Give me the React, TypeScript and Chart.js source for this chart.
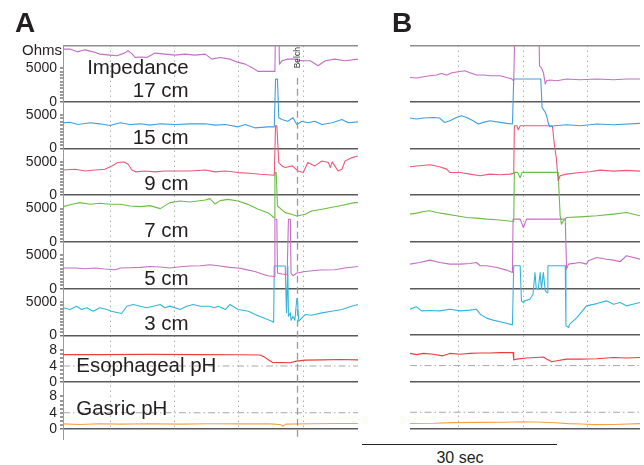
import React, { useEffect, useRef } from 'react';
import { Chart, registerables } from 'chart.js';

Chart.register(...registerables);

const FONT = "'Liberation Sans', Arial, Helvetica, sans-serif";
const INK = '#231f20';
Chart.defaults.font.family = FONT;

type Pt = [number, number];

// ---------- Panel A: time (s), impedance (Ohm) / pH ----------
const a17: Pt[] = [[-7.3,7890],[-6.2,7890],[-5.1,7480],[-3.9,7780],[-2.6,7480],[-1.6,7140],[0,6990],[1.1,6900],[2.2,7290],[2.8,7640],[3.3,7290],[3.9,6650],[4.7,6700],[5.7,6650],[7.0,7290],[8.5,7140],[10.1,6990],[11.6,7140],[13.2,6990],[14.8,7140],[15.8,6390],[17.1,6640],[18.6,6390],[19.9,5900],[21.0,5640],[22.0,5150],[23.0,4550],[25.6,4550],[25.7,12000],[26.2,12000],[26.3,5640],[26.7,6140],[27.6,6390],[28.7,6390],[29.8,6140],[31.1,6140],[32.3,5390],[33.4,6140],[34.9,6390],[36.5,6140],[38.5,6390]];
const a15: Pt[] = [[-7.3,3850],[-6.2,3940],[-5.0,3600],[-3.1,3850],[-1.6,3700],[0,3450],[1.6,3850],[3.1,3600],[4.7,3700],[6.2,3500],[7.8,3700],[10.1,3600],[12.4,3700],[14.8,3700],[16.3,3500],[17.9,3600],[19.9,3250],[21.0,3600],[22.5,3100],[24.5,3250],[25.5,3250],[25.7,10400],[26.0,10400],[26.2,4600],[26.7,4340],[27.6,4090],[28.4,4600],[29.0,3600],[29.8,4090],[30.7,3850],[31.8,4090],[32.9,3600],[34.5,3850],[36.0,4340],[37.0,3850],[38.5,4000]];
const a9: Pt[] = [[-7.3,3790],[-5.4,3890],[-3.9,3640],[-2.3,3790],[-0.8,3890],[0.3,4400],[1.2,4900],[2.2,4990],[2.8,4640],[3.4,3790],[4.0,3500],[5.4,3640],[7.0,3500],[8.5,3640],[10.1,3640],[12.4,3640],[14.8,3790],[16.3,3500],[17.9,3640],[19.9,3400],[21.7,3300],[23.3,3150],[25.5,3000],[25.7,10400],[25.9,10400],[26.2,4900],[26.7,4400],[27.2,4150],[28.3,4400],[29.2,3640],[30.0,3400],[30.7,4900],[31.8,4400],[32.9,5140],[33.9,4900],[34.2,4150],[34.5,5000],[35.4,3640],[36.0,3900],[36.5,5140],[37.6,5640],[38.5,5880]];
const a7: Pt[] = [[-7.3,5300],[-5.9,5650],[-4.7,5900],[-3.1,5650],[-1.6,5800],[0,5650],[1.6,5650],[3.1,5400],[4.7,5300],[6.2,5450],[7.8,5000],[9.3,5900],[10.9,6140],[12.4,6000],[13.6,6140],[14.8,6300],[15.5,6500],[16.3,5700],[17.1,6200],[18.3,6390],[19.9,6140],[21.4,5640],[23.0,4900],[24.7,4300],[25.5,3600],[25.6,10400],[25.8,10400],[26.0,5400],[27.2,4400],[28.2,4150],[29.0,3900],[30.3,4150],[31.3,4640],[32.9,4900],[35.5,5390],[38.0,5900],[38.5,5900]];
const a5: Pt[] = [[-7.3,3100],[-5.4,3100],[-3.9,3000],[-2.3,3100],[-0.8,2950],[0.8,2850],[1.6,3100],[3.1,3150],[4.7,3200],[6.2,3340],[7.8,3250],[9.3,3100],[10.9,3300],[12.4,3400],[14.0,3450],[15.5,3590],[17.1,3400],[18.6,3200],[19.9,3100],[21.0,2900],[22.5,2590],[23.6,2200],[24.5,1950],[25.5,1840],[25.6,10400],[25.9,10400],[26.0,2350],[26.7,2200],[27.5,2100],[27.7,10400],[28.0,10400],[28.1,2350],[28.4,1950],[29.0,2350],[30.3,2590],[32.6,2800],[34.9,2850],[36.5,3100],[38.5,3340]];
const a3: Pt[] = [[-7.3,4150],[-6.2,3890],[-5.2,4390],[-4.4,3890],[-3.6,4150],[-2.6,3640],[-1.6,4150],[-0.5,3890],[0.2,3640],[1.8,3290],[2.6,4390],[3.6,4640],[4.7,4390],[5.7,4150],[6.7,4390],[7.8,4640],[8.5,4150],[9.3,4400],[10.9,3890],[11.9,4390],[12.9,4640],[14.0,4390],[15.5,4390],[16.2,4150],[16.8,4390],[17.9,3890],[18.6,4640],[19.9,3890],[21.5,3640],[22.5,3140],[23.8,2650],[25.1,2140],[25.4,1990],[25.5,10400],[27.2,10400],[27.4,3400],[27.6,10400],[27.7,2900],[28.0,3400],[28.1,2300],[28.4,2900],[28.7,2300],[29.0,5540],[29.1,5300],[29.3,2140],[29.8,2650],[30.3,3140],[31.3,3040],[32.9,3390],[34.4,3640],[36.0,3890],[37.5,4390],[38.5,4640]];
const aEsophagealPh: Pt[] = [[-7.3,6.8],[-1.6,6.8],[6.2,6.85],[14.0,6.8],[20.2,6.75],[23.3,6.7],[23.9,6.3],[24.5,5.6],[25.2,4.9],[28.0,4.8],[28.9,5.2],[30.3,5.45],[33.0,5.5],[35.7,5.6],[38.5,5.5]];
const aGastricPh: Pt[] = [[-7.3,1.25],[-4.7,1.1],[-1.6,1.3],[1.6,1.2],[6.2,1.3],[10.9,1.2],[15.5,1.3],[20.2,1.25],[24.8,1.25],[26.4,1.1],[26.9,0.7],[27.3,1.2],[31.1,1.3],[35.7,1.35],[38.5,1.35]];

// ---------- Panel B ----------
const b17: Pt[] = [[-7.6,3640],[-6.6,3550],[-5.5,3750],[-4.5,3890],[-3.5,4000],[-2.7,4240],[-1.9,4000],[-1.1,4350],[0.2,4540],[0.9,4640],[1.7,4350],[2.7,4000],[3.8,4000],[4.8,3900],[6.4,3900],[7.4,3640],[8.2,3400],[8.5,3140],[8.7,12000],[12.4,12000],[12.5,5390],[12.8,5090],[13.1,4390],[13.4,2650],[13.6,3140],[14.1,3250],[15.2,3140],[16.7,3400],[18.8,3300],[21.4,3400],[24.0,3300],[26.0,3400],[28.1,3400]];
const b15: Pt[] = [[-7.6,4550],[-6.6,4400],[-5.5,4550],[-4.0,4640],[-3.0,4550],[-2.2,3890],[-1.4,4150],[-0.4,4640],[0.4,4900],[1.2,4640],[2.2,4150],[3.0,3650],[3.8,3900],[4.8,4150],[6.4,3900],[7.4,3750],[8.3,3650],[8.5,10400],[12.7,10400],[12.9,6140],[13.4,5400],[13.6,4900],[13.9,3650],[14.1,3250],[14.9,3400],[16.7,3550],[18.8,3400],[21.4,3650],[24.0,3550],[28.1,3750]];
const b9: Pt[] = [[-7.6,4240],[-6.1,4390],[-4.5,4540],[-3.0,4240],[-1.9,3890],[-1.4,3380],[0.2,3380],[1.7,3140],[3.3,2890],[4.8,3140],[6.4,3050],[7.9,3140],[8.5,3250],[8.6,10400],[9.0,10400],[9.2,9800],[9.5,10400],[14.5,10400],[14.8,7640],[15.1,5630],[15.4,2140],[15.7,2900],[16.7,3140],[18.8,3380],[20.3,3500],[21.9,3740],[24.0,3600],[26.0,3700],[28.1,3600]];
const b7: Pt[] = [[-7.6,4150],[-6.6,4300],[-5.5,4540],[-4.5,4640],[-3.5,4390],[-1.9,4150],[-0.4,3890],[1.2,3640],[2.7,3550],[4.3,3400],[5.9,3300],[7.4,3140],[8.5,3040],[8.6,10400],[9.1,10400],[9.5,9600],[9.8,10400],[15.4,10400],[15.7,4000],[15.9,2650],[16.2,3140],[16.7,3640],[18.8,3740],[21.4,3890],[24.0,4150],[26.0,4390],[28.1,3890]];
const b5: Pt[] = [[-7.6,3650],[-6.1,3890],[-4.5,4250],[-3.0,3890],[-1.4,3650],[0.2,3650],[1.7,3750],[2.7,3890],[3.3,3400],[4.3,3400],[5.9,3140],[7.4,2750],[8.3,2400],[8.4,10400],[9.5,10400],[10.0,9130],[10.5,10400],[16.5,10400],[16.7,2900],[17.0,3650],[18.8,3890],[19.8,3650],[20.1,4150],[21.4,4640],[22.9,4390],[24.0,4250],[25.0,4000],[26.0,4900],[28.1,4400]];
const b3: Pt[] = [[-7.6,3890],[-6.6,4240],[-5.8,3640],[-4.5,3700],[-3.0,3640],[-1.4,3890],[0.2,3640],[1.7,3750],[2.7,3890],[3.3,3140],[4.3,2550],[5.3,2250],[6.9,1890],[8.3,1540],[8.5,10400],[9.5,10400],[9.7,5140],[10.0,4880],[10.2,5140],[11.0,5390],[11.5,6140],[11.8,9370],[12.0,7000],[12.3,6900],[12.6,9370],[12.8,6890],[13.1,9370],[13.4,6630],[13.7,6380],[13.8,10400],[16.5,10400],[16.6,1390],[17.0,1140],[17.2,1650],[18.3,2640],[19.8,4390],[21.4,4730],[22.9,5140],[24.0,4640],[25.0,4900],[26.0,4390],[27.0,4640],[28.1,4900]];
const bEsophagealPh: Pt[] = [[-7.6,7.0],[-6.6,6.7],[-5.5,7.0],[-4.0,6.8],[-2.5,6.4],[-1.4,7.0],[0.2,6.8],[1.7,7.0],[3.3,7.1],[4.8,7.1],[6.4,7.2],[8.4,7.2],[8.5,5.4],[9.0,5.6],[10.5,5.85],[12.0,6.0],[13.1,6.1],[13.6,5.6],[14.4,4.95],[15.2,5.2],[16.7,5.6],[18.8,5.6],[21.4,5.7],[24.0,6.0],[26.0,5.85],[28.1,6.0]];
const bGastricPh: Pt[] = [[-7.6,1.25],[-4.0,1.3],[-1.0,1.45],[3.0,1.5],[7.0,1.55],[10.0,1.65],[13.0,1.55],[15.0,1.4],[17.0,1.2],[19.0,1.1],[21.0,0.95],[24.0,1.0],[28.1,1.2]];

// ---------- Channels, ticks, ranges ----------
const channelNames = ['17 cm', '15 cm', '9 cm', '7 cm', '5 cm', '3 cm', 'Esophageal pH', 'Gasric pH'];
const channelColors = ['#c46fc4', '#3f9fe0', '#f0577a', '#6dbd45', '#c46fc4', '#33b5dc', '#eb3d3d', '#f7a145'];
const impedanceLabels = [0, 5000];
const phLabels = [0, 4, 8];
const impedanceMax = 7000;
const topBandMax = 8400;
const phMax = 11.5;
const phReference = 4;
const gridSeconds = [0, 10, 20, 30];
const aTimeRange: Pt = [-7.3, 38.5];
const bTimeRange: Pt = [-7.6, 28.1];
const belchTime = 29.0;

const aSeries = [a17, a15, a9, a7, a5, a3, aEsophagealPh, aGastricPh];
const bSeries = [b17, b15, b9, b7, b5, b3, bEsophagealPh, bGastricPh];

type LabelSpec = { text: string; axis: number; t: number; v: number; align: CanvasTextAlign };
const aLabels: LabelSpec[] = [
  { text: 'Impedance', axis: 0, t: 12.2, v: 4100, align: 'right' },
  { text: '17 cm', axis: 0, t: 12.2, v: 650, align: 'right' },
  { text: '15 cm', axis: 1, t: 12.2, v: 750, align: 'right' },
  { text: '9 cm', axis: 2, t: 12.2, v: 800, align: 'right' },
  { text: '7 cm', axis: 3, t: 12.2, v: 800, align: 'right' },
  { text: '5 cm', axis: 4, t: 12.2, v: 600, align: 'right' },
  { text: '3 cm', axis: 5, t: 12.2, v: 850, align: 'right' },
  { text: 'Esophageal pH', axis: 6, t: -5.25, v: 2.47, align: 'left' },
  { text: 'Gasric pH', axis: 7, t: -5.25, v: 3.46, align: 'left' },
];

const CLEAR = 'rgba(0,0,0,0)';

function bandMax(i: number) {
  return i === 0 ? topBandMax : i >= 6 ? phMax : impedanceMax;
}

function makeYAxis(i: number, showAxes: boolean) {
  const isPh = i >= 6;
  const max = bandMax(i);
  const rulerTop = isPh ? 8 : 5000;
  const step = isPh ? 1 : 500;
  const named = isPh ? phLabels : impedanceLabels;
  const isLine = (c: any) => c.tick && (c.tick.value === 0 || (i === 0 && c.tick.value === max));
  return {
    type: 'linear',
    position: 'left',
    stack: 'channels',
    stackWeight: i === 0 ? 1.2 : 1,
    weight: 20 - i,
    min: 0,
    max,
    afterBuildTicks: (scale: any) => {
      const ticks: { value: number }[] = [];
      if (showAxes) {
        for (let k = 0; k * step <= rulerTop + 1e-6; k++) ticks.push({ value: Math.round(k * step * 100) / 100 });
      } else {
        ticks.push({ value: 0 });
      }
      ticks.push({ value: max });
      scale.ticks = ticks;
    },
    afterFit: (scale: any) => {
      scale.width = showAxes ? 63 : 0;
    },
    ticks: {
      display: showAxes,
      autoSkip: false,
      padding: 3,
      color: INK,
      font: { family: FONT, size: 14 },
      callback: (v: number) => (named.includes(v) ? String(v) : ''),
    },
    grid: {
      drawTicks: showAxes,
      tickLength: 3,
      tickWidth: 1,
      tickColor: (c: any) => (c.tick && c.tick.value <= rulerTop ? '#333333' : CLEAR),
      color: (c: any) => {
        if (!c.tick) return CLEAR;
        if (c.tick.value === 0) return '#5a5a5a';
        if (i === 0 && c.tick.value === max) return '#8f8f8f';
        return CLEAR;
      },
      lineWidth: (c: any) => (isLine(c) ? 1.6 : 0),
    },
    border: { display: showAxes, color: '#9a9a9a', width: 1 },
  };
}

function makeXAxis(range: Pt, showAxes: boolean) {
  const [min, max] = range;
  return {
    type: 'linear',
    position: 'bottom',
    min,
    max,
    afterBuildTicks: (scale: any) => {
      scale.ticks = [{ value: min }, ...gridSeconds.filter((s) => s > min && s < max).map((value) => ({ value }))];
    },
    ticks: { display: false },
    grid: {
      drawTicks: showAxes,
      tickLength: 11,
      tickWidth: 1,
      tickColor: (c: any) => (c.tick && c.tick.value === min ? '#9a9a9a' : CLEAR),
      color: (c: any) => (c.tick && c.tick.value !== min ? '#8a8a8a' : CLEAR),
      lineWidth: 1,
    },
    border: { display: false, dash: [1, 4] },
  };
}

function makeDatasets(series: Pt[][], range: Pt) {
  const traces = series.map((pts, i) => ({
    label: channelNames[i],
    data: pts.map(([x, y]) => ({ x, y })),
    xAxisID: 'x',
    yAxisID: 'y' + i,
    borderColor: channelColors[i],
    backgroundColor: channelColors[i],
    borderWidth: 1.1,
    pointRadius: 0,
    tension: 0,
    fill: false,
    borderJoinStyle: 'round',
    clip: i === 0 ? 0 : { left: 0, right: 0, top: 120, bottom: 4 },
  }));
  const refs = [6, 7].map((i) => ({
    label: 'pH ' + phReference,
    data: [
      { x: range[0], y: phReference },
      { x: range[1], y: phReference },
    ],
    xAxisID: 'x',
    yAxisID: 'y' + i,
    borderColor: '#a8a8a8',
    borderWidth: 1,
    borderDash: [7, 3, 1.5, 3],
    pointRadius: 0,
    fill: false,
  }));
  return [...traces, ...refs];
}

function annotationPlugin(labels: LabelSpec[], showUnit: boolean, belch: number | null) {
  return {
    id: 'traceAnnotations',
    afterDatasetsDraw(chart: any) {
      const { ctx, chartArea, scales } = chart;
      ctx.save();
      ctx.fillStyle = INK;
      ctx.font = `20.5px ${FONT}`;
      ctx.textBaseline = 'alphabetic';
      for (const l of labels) {
        ctx.textAlign = l.align;
        ctx.fillText(l.text, scales.x.getPixelForValue(l.t), scales['y' + l.axis].getPixelForValue(l.v));
      }
      if (showUnit) {
        ctx.font = `15px ${FONT}`;
        ctx.textAlign = 'right';
        ctx.fillText('Ohms', chartArea.left - 1, chartArea.top + 9.5);
      }
      if (belch !== null) {
        const x = Math.round(scales.x.getPixelForValue(belch)) + 0.5;
        ctx.strokeStyle = '#9a9a9a';
        ctx.lineWidth = 1.3;
        ctx.setLineDash([7, 4]);
        ctx.beginPath();
        ctx.moveTo(x, chartArea.top + 32);
        ctx.lineTo(x, chartArea.bottom + 11);
        ctx.stroke();
        ctx.setLineDash([]);
        ctx.translate(x, chartArea.top + 12);
        ctx.rotate(-Math.PI / 2);
        ctx.font = `8.5px ${FONT}`;
        ctx.textAlign = 'center';
        ctx.textBaseline = 'middle';
        ctx.fillStyle = '#333';
        ctx.fillText('Belch', 0, 0);
      }
      ctx.restore();
    },
  };
}

type TraceProps = {
  left: number;
  width: number;
  height: number;
  padding: { left: number; right: number; top: number; bottom: number };
  range: Pt;
  series: Pt[][];
  showAxes: boolean;
  labels: LabelSpec[];
  belch: number | null;
};

function TraceChart(props: TraceProps) {
  const ref = useRef<HTMLCanvasElement>(null);
  useEffect(() => {
    const { padding, range, series, showAxes, labels, belch } = props;
    const scales: any = { x: makeXAxis(range, showAxes) };
    series.forEach((_, i) => {
      scales['y' + i] = makeYAxis(i, showAxes);
    });
    const chart = new Chart(ref.current as HTMLCanvasElement, {
      type: 'line',
      data: { datasets: makeDatasets(series, range) as any },
      options: {
        responsive: false,
        maintainAspectRatio: false,
        animation: false,
        events: [],
        layout: { padding },
        plugins: { legend: { display: false }, tooltip: { enabled: false }, title: { display: false } },
        scales,
      } as any,
      plugins: [annotationPlugin(labels, showAxes, belch)],
    });
    return () => chart.destroy();
  }, []);
  return (
    <canvas
      ref={ref}
      width={props.width}
      height={props.height}
      style={{ position: 'absolute', left: props.left, top: 0, width: props.width, height: props.height }}
    />
  );
}

export default function App() {
  const panelLetter: React.CSSProperties = {
    position: 'absolute',
    top: 9,
    fontSize: 28,
    lineHeight: '28px',
    fontWeight: 700,
  };
  return (
    <div
      style={{
        position: 'absolute',
        left: 0,
        top: 0,
        width: 644,
        height: 465,
        background: '#ffffff',
        overflow: 'hidden',
        fontFamily: FONT,
        color: INK,
      }}
    >
      <TraceChart
        left={0}
        width={362}
        height={441}
        padding={{ left: 0, right: 4, top: 45.7, bottom: 1 }}
        range={aTimeRange}
        series={aSeries}
        showAxes={true}
        labels={aLabels}
        belch={belchTime}
      />
      <TraceChart
        left={380}
        width={264}
        height={430}
        padding={{ left: 30, right: 4, top: 45.7, bottom: 1.5 }}
        range={bTimeRange}
        series={bSeries}
        showAxes={false}
        labels={[]}
        belch={null}
      />
      <div style={{ ...panelLetter, left: 15 }}>A</div>
      <div style={{ ...panelLetter, left: 392 }}>B</div>
      <div style={{ position: 'absolute', left: 362, top: 444, width: 195, borderTop: '1.5px solid #222' }} />
      <div style={{ position: 'absolute', left: 420, top: 450, width: 80, textAlign: 'center', fontSize: 16, lineHeight: '16px' }}>
        30 sec
      </div>
    </div>
  );
}
